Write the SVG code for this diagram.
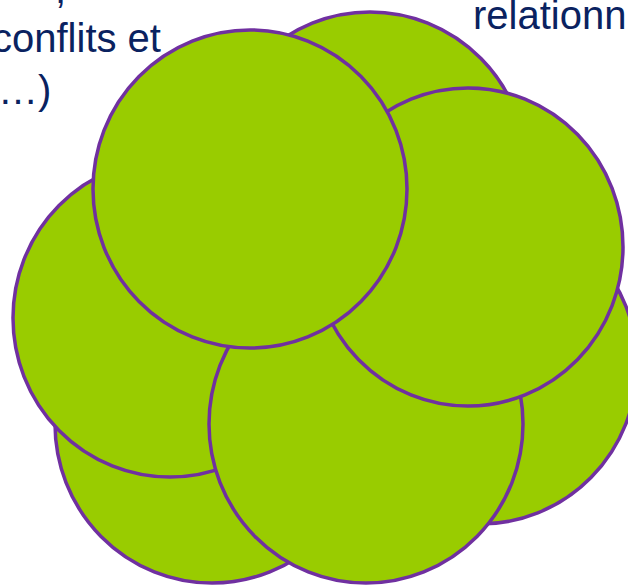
<svg xmlns="http://www.w3.org/2000/svg" width="628" height="586" viewBox="0 0 628 586">
<style>
.c{fill:#99CC00;stroke:#7030A0;stroke-width:3.5}
.t{font-family:"Liberation Sans",Arial,sans-serif;font-size:40px;fill:#0A2260}
</style>
<rect width="628" height="586" fill="#ffffff"/>
<g id="labels">
<text class="t" x="55" y="3">,</text>
<text class="t" x="-8" y="52">conflits et</text>
<text class="t" x="-2" y="104">…)</text>
<text class="t" x="473" y="29">relationn</text>
</g>
<g id="circle-top-back"><ellipse class="c" cx="370" cy="171" rx="157" ry="159"/></g>
<g id="circle-right-back"><ellipse class="c" cx="480" cy="365" rx="157" ry="159"/></g>
<g id="circle-bottom-left"><ellipse class="c" cx="212" cy="424" rx="157" ry="159"/></g>
<g id="circle-left"><ellipse class="c" cx="170" cy="318" rx="157" ry="159"/></g>
<g id="circle-bottom"><ellipse class="c" cx="366" cy="424" rx="157" ry="159"/></g>
<g id="circle-right"><ellipse class="c" cx="468" cy="247" rx="155" ry="159"/></g>
<g id="circle-top-left"><ellipse class="c" cx="250" cy="189" rx="157" ry="159"/></g>
<g id="connectors"></g>
</svg>
